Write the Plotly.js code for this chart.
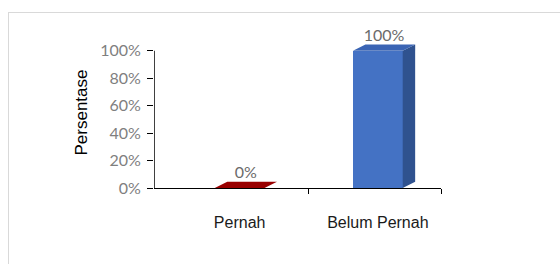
<!DOCTYPE html>
<html><head><meta charset="utf-8">
<script src="https://cdn.plot.ly/plotly-3.0.1.min.js"></script>
<style>
html,body{margin:0;padding:0;background:#fff;}
#wrap{position:relative;width:560px;height:264px;overflow:hidden;}
#frame{position:absolute;left:8px;top:12px;width:560px;height:260px;border:1px solid #d9d9d9;pointer-events:none;}
#chart{position:absolute;left:0;top:0;width:560px;height:264px;}
</style></head>
<body><div id="wrap"><div id="frame"></div><div id="chart"></div></div>
<script>
const categories = ["Pernah", "Belum Pernah"];
const values = [0, 1];
const labels = ["0%", "100%"];
const frontColors = ["#8b0000", "#4472c4"];
const topColors = ["#990000", "#3a64b4"];
const sideColors = ["#6e0000", "#2f528f"];

const pos = categories.map((c, i) => i);
const w = 0.36, dx = 0.09, dy = 0.045;
const xmin = -0.62, xmax = 1.457;

const traces = [{
  type: "bar", x: pos, y: values, width: w,
  marker: {color: frontColors, line: {width: 0}},
  hoverinfo: "skip", showlegend: false
}];
pos.forEach((p, i) => {
  const v = values[i];
  const l = p - w / 2, r = p + w / 2;
  traces.push({
    type: "scatter", mode: "lines", fill: "toself", fillcolor: sideColors[i],
    line: {width: 0, color: sideColors[i]},
    x: [r, r + dx, r + dx, r, r], y: [0, dy, v + dy, v, 0],
    hoverinfo: "skip", showlegend: false
  });
  traces.push({
    type: "scatter", mode: "lines", fill: "toself", fillcolor: topColors[i],
    line: {width: 0, color: topColors[i]},
    x: [l, r, r + dx, l + dx, l], y: [v, v, v + dy, v + dy, v],
    hoverinfo: "skip", showlegend: false
  });
});
traces.push({
  type: "scatter", mode: "text", x: pos.map(p => p + dx / 2), y: values.map(v => v + dy),
  text: labels, textposition: "top center", cliponaxis: false,
  textfont: {family: "Lato, 'Open Sans', sans-serif", size: 16, color: "#6b6b6b"},
  hoverinfo: "skip", showlegend: false
});

const layout = {
  width: 560, height: 264,
  margin: {l: 154, r: 119, t: 37, b: 76},
  paper_bgcolor: "rgba(0,0,0,0)", plot_bgcolor: "rgba(0,0,0,0)",
  font: {family: "'Liberation Sans', Arial, sans-serif", color: "#1a1a1a"},
  xaxis: {
    range: [xmin, xmax], tickvals: pos, ticktext: categories,
    showgrid: false, zeroline: false, showline: true, linecolor: "#000", linewidth: 1,
    ticks: "", tickfont: {size: 16, color: "#1a1a1a"}, ticklabelstandoff: 20,
    minor: {tickvals: [0.5, xmax], ticks: "outside", ticklen: 5, tickcolor: "#000", showgrid: false},
    fixedrange: true
  },
  yaxis: {
    range: [0, 1.1], tickvals: [0, 0.2, 0.4, 0.6, 0.8, 1], tickformat: ".0%",
    showgrid: false, zeroline: false, showline: false,
    ticks: "outside", ticklen: 6, tickcolor: "#000", ticklabelstandoff: 3,
    tickfont: {family: "Lato, 'Open Sans', sans-serif", size: 16, color: "#7f7f7f"},
    title: {text: "Persentase", font: {size: 17, color: "#000"}, standoff: 8},
    fixedrange: true
  },
  shapes: [{type: "line", xref: "x", yref: "y", x0: xmin, x1: xmin, y0: 0, y1: 1,
            layer: "above", line: {color: "#000", width: 1.5}}],
  bargap: 0
};
Plotly.newPlot("chart", traces, layout, {staticPlot: true, displayModeBar: false});
</script></body></html>
